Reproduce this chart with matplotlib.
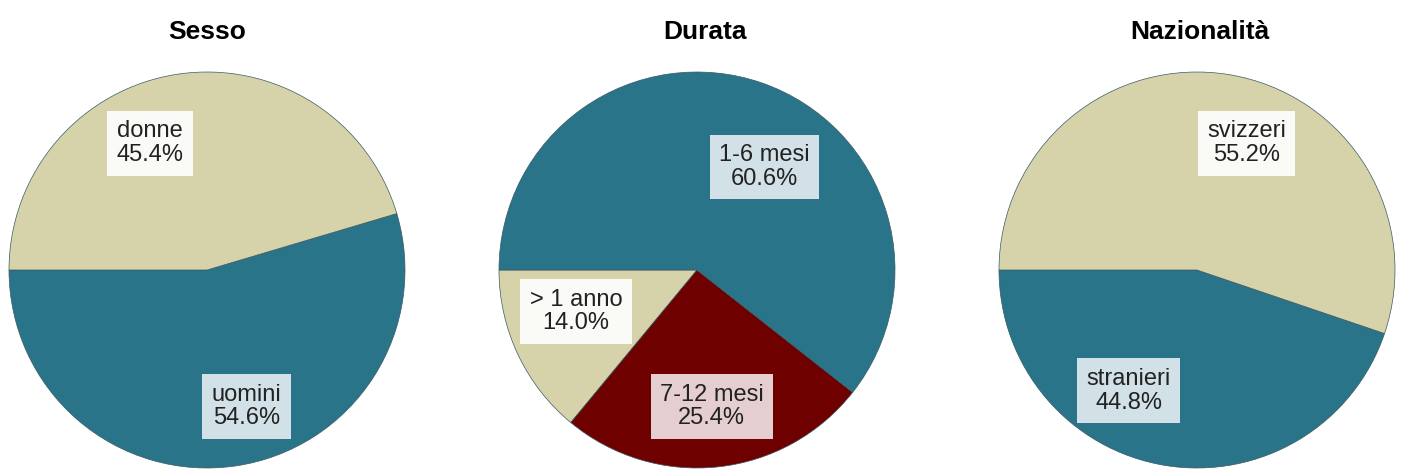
import matplotlib.pyplot as plt

plt.rcParams["font.family"] = ["Liberation Sans", "DejaVu Sans"]

TEAL = "#2A7489"
BEIGE = "#D6D3AA"
DARKRED = "#6E0000"

# data
TITLES = ["Sesso", "Durata", "Nazionalità"]
sesso_labels = ["uomini", "donne"]
sesso_values = [54.6, 45.4]
durata_labels = ["> 1 anno", "7-12 mesi", "1-6 mesi"]
durata_values = [14.0, 25.4, 60.6]
naz_labels = ["stranieri", "svizzeri"]
naz_values = [44.8, 55.2]

PIES = [
    (sesso_labels, sesso_values, [TEAL, BEIGE]),
    (durata_labels, durata_values, [BEIGE, DARKRED, TEAL]),
    (naz_labels, naz_values, [TEAL, BEIGE]),
]

# layout (pixels in a 1408x473 figure)
W, H = 1408, 473
CENTERS_X = [207, 697, 1197]
CENTER_Y = 270
R = 198
TITLE_X = [207, 705, 1200]
# label text centers, in pie units (radius = 1)
LABEL_POS = [
    [(0.20, -0.69), (-0.29, 0.64)],
    [(-0.61, -0.21), (0.075, -0.69), (0.34, 0.52)],
    [(-0.345, -0.61), (0.25, 0.64)],
]
BOX_COLORS = [
    ["#E4EEF2", "#FFFFFF"],
    ["#FFFFFF", "#F2E6E8", "#E4EEF2"],
    ["#E4EEF2", "#FFFFFF"],
]

fig = plt.figure(figsize=(W / 100, H / 100), dpi=100)

for i, (labels, values, colors) in enumerate(PIES):
    cx = CENTERS_X[i]
    ax = fig.add_axes([(cx - R) / W, (H - CENTER_Y - R) / H, 2 * R / W, 2 * R / H])
    ax.pie(values, colors=colors, startangle=180, counterclock=True,
           wedgeprops=dict(edgecolor="#3a5a63", linewidth=0.5))
    ax.set_xlim(-1, 1)
    ax.set_ylim(-1, 1)
    ax.set_aspect("auto")
    ax.axis("off")
    for j, (lab, v) in enumerate(zip(labels, values)):
        x, y = LABEL_POS[i][j]
        ax.text(x, y, f"{lab}\n{v:.1f}%", ha="center", va="center",
                fontsize=17, color="#222222", linespacing=1.1,
                bbox=dict(boxstyle="square,pad=0.4", facecolor=BOX_COLORS[i][j],
                          edgecolor="none", alpha=0.9))
    fig.text(TITLE_X[i] / W, 1 - 32 / H, TITLES[i], ha="center", va="center",
             fontsize=19, fontweight="bold", color="black")

fig.savefig("out.png", dpi=100)
